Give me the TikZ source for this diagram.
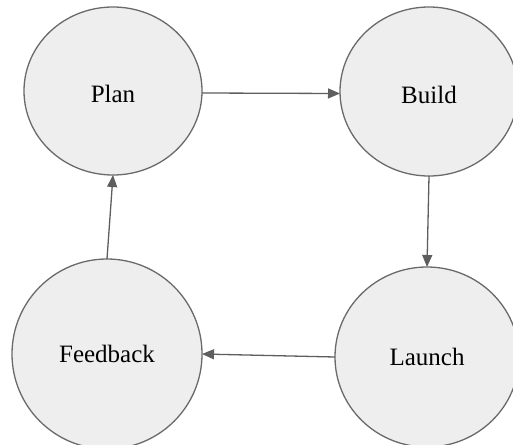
\documentclass[tikz,border=0pt]{standalone}
\usepackage{fontspec}
\setmainfont{Liberation Serif}
\newfontfamily\stagefont{Liberation Serif}
\usetikzlibrary{shapes.geometric,arrows.meta}
\definecolor{nodefill}{HTML}{EEEEEE}
\definecolor{nodeline}{HTML}{6A6A6A}
\definecolor{arrowc}{HTML}{5E5E5E}
\begin{document}
\begin{tikzpicture}[x=1pt,y=-1pt,
  stage/.style={ellipse, draw=nodeline, fill=nodefill, line width=1.3pt, inner sep=0pt, outer sep=0pt, font=\stagefont\fontsize{25}{30}\selectfont},
  flow/.style={draw=arrowc, line width=1.3pt, -{Triangle[length=12pt,width=10pt]}}]
\useasboundingbox (0,0) rectangle (513,444);
\fill[white] (0,0) rectangle (513,444);
\node[stage, minimum width=178pt, minimum height=168pt] (plan) at (113,91) {\raisebox{-3pt}[\height][\depth]{Plan}};
\node[stage, minimum width=178pt, minimum height=169pt] (build) at (429,91.5) {\raisebox{-3pt}[\height][\depth]{Build}};
\node[stage, minimum width=184pt, minimum height=180pt] (launch) at (427,357) {Launch};
\node[stage, minimum width=190pt, minimum height=190pt] (feedback) at (107,354) {Feedback};
\draw[flow] ([yshift=-2pt]plan.east) -- ([yshift=-2pt]build.west);
\draw[flow] (build.south) -- (launch.north);
\draw[flow] (launch.west) -- (feedback.east);
\draw[flow] (feedback.north) -- (plan.south);
\end{tikzpicture}
\end{document}
